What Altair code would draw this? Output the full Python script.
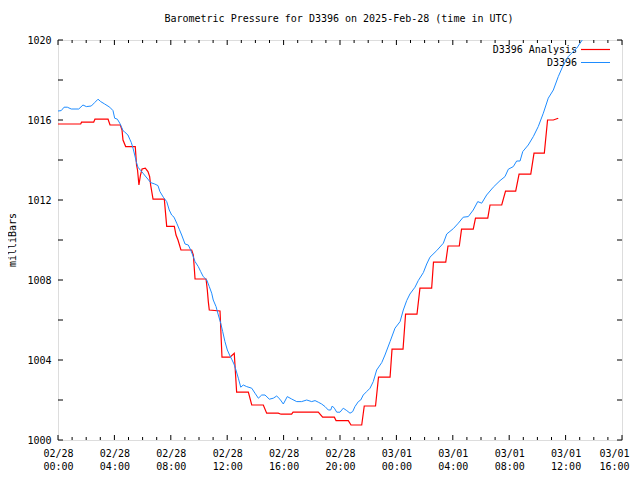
import json
import altair as alt
import pandas as pd

# ---------------- data (hours since 2025-02-28 00:00 UTC, millibars) ----------------
blue_hours = [0, 0.23, 0.43, 0.66, 0.94, 1.47, 1.77, 2.01, 2.36, 2.60, 2.84, 3.03, 3.31, 3.67, 3.90,
              4.02, 4.21, 4.38, 4.49, 4.61, 4.73, 4.96, 5.09, 5.20, 5.32, 5.44, 5.55, 5.67, 5.87,
              6.03, 6.19, 6.38, 6.57, 6.86, 7.09, 7.23, 7.47, 7.71, 7.89, 8.06, 8.23, 8.42, 8.60,
              8.77, 9.01, 9.24, 9.41, 9.55, 9.72, 9.95, 10.12, 10.30, 10.55, 10.73, 10.90, 11.01,
              11.21, 11.37, 11.54, 11.68, 11.84, 12.01, 12.20, 12.32, 12.48, 12.62, 12.79, 12.96,
              13.14, 13.38, 13.74, 13.97, 14.21, 14.45, 14.68, 14.99, 15.27, 15.51, 15.74, 15.98,
              16.26, 16.57, 16.93, 17.28, 17.64, 17.99, 18.23, 18.46, 18.70, 18.94, 19.17, 19.34,
              19.45, 19.60, 19.77, 20.00, 20.23, 20.48, 20.71, 20.90, 21.06, 21.30, 21.47, 21.65,
              21.89, 22.13, 22.36, 22.60, 22.96, 23.19, 23.55, 23.90, 24.26, 24.49, 24.73, 24.96,
              25.32, 25.55, 25.91, 26.15, 26.38, 26.86, 27.33, 27.57, 28.04, 28.39, 28.74, 29.10,
              29.45, 29.77, 30.05, 30.40, 30.87, 31.35, 31.70, 31.94, 32.29, 32.53, 32.77, 32.96,
              33.35, 33.71, 34.06, 34.42, 34.77, 35.13, 35.48, 35.84, 36.19, 36.43, 36.79, 37.18,
              37.45]
blue_mb = [1016.45, 1016.47, 1016.64, 1016.64, 1016.55, 1016.55, 1016.75, 1016.67, 1016.70, 1016.87,
           1017.04, 1016.92, 1016.80, 1016.64, 1016.47, 1016.09, 1016.04, 1015.84, 1015.67, 1015.47,
           1015.40, 1015.25, 1015.04, 1014.87, 1014.59, 1014.25, 1013.92, 1013.64, 1013.47, 1013.34,
           1013.20, 1013.04, 1012.87, 1012.80, 1012.72, 1012.42, 1012.14, 1011.92, 1011.50, 1011.25,
           1011.14, 1010.84, 1010.54, 1010.25, 1009.80, 1009.75, 1009.50, 1009.25, 1008.92, 1008.67,
           1008.42, 1008.17, 1008.00, 1007.67, 1007.34, 1007.00, 1006.67, 1006.25, 1005.84, 1005.42,
           1004.92, 1004.50, 1004.20, 1004.04, 1003.80, 1003.50, 1003.09, 1002.64, 1002.75, 1002.67,
           1002.59, 1002.34, 1002.09, 1002.25, 1002.25, 1002.04, 1002.09, 1002.20, 1002.04, 1001.80,
           1002.17, 1002.05, 1001.92, 1001.92, 1002.00, 1001.92, 1001.97, 1001.89, 1001.80, 1001.67,
           1001.50, 1001.50, 1001.70, 1001.59, 1001.39, 1001.39, 1001.59, 1001.47, 1001.34, 1001.42,
           1001.67, 1001.92, 1002.00, 1002.25, 1002.42, 1002.59, 1002.92, 1003.50, 1003.87, 1004.25,
           1004.92, 1005.59, 1005.92, 1006.50, 1006.97, 1007.30, 1007.64, 1007.97, 1008.37, 1008.80,
           1009.14, 1009.47, 1009.84, 1010.30, 1010.57, 1010.84, 1011.14, 1011.17, 1011.50, 1011.92,
           1011.84, 1012.25, 1012.64, 1012.97, 1013.17, 1013.54, 1013.67, 1013.95, 1013.95, 1014.42,
           1014.75, 1015.17, 1015.67, 1016.34, 1017.09, 1017.50, 1018.17, 1018.75, 1019.17, 1019.34,
           1019.59, 1020.00, 1020.25]

red_hours = [0, 1.61, 1.67, 2.53, 2.62, 3.55, 3.69, 4.42, 4.54, 4.61, 4.80, 5.48, 5.57, 5.64, 5.74,
             5.85, 5.96, 6.19, 6.38, 6.50, 6.57, 6.74, 7.54, 7.71, 8.25, 8.37, 8.51, 8.72, 9.48,
             9.60, 9.65, 9.72, 10.50, 10.59, 10.66, 10.73, 11.49, 11.63, 12.20, 12.50, 12.67,
             13.50, 13.74, 14.56, 14.80, 15.62, 15.82, 16.57, 16.67, 18.46, 18.77, 19.60, 19.72,
             20.59, 20.78, 21.54, 21.72, 22.52, 22.73, 23.55, 23.69, 24.47, 24.65, 25.46, 25.67,
             26.50, 26.63, 27.50, 27.66, 28.46, 28.62, 29.45, 29.61, 30.48, 30.64, 31.47, 31.74,
             32.46, 32.70, 33.53, 33.76, 34.49, 34.72, 35.13, 35.48]
red_mb = [1015.80, 1015.80, 1015.89, 1015.89, 1016.04, 1016.04, 1015.75, 1015.75, 1015.50, 1015.00,
          1014.67, 1014.67, 1013.75, 1013.50, 1012.75, 1013.25, 1013.55, 1013.59, 1013.42, 1013.17,
          1012.75, 1012.04, 1012.04, 1010.68, 1010.68, 1010.25, 1010.00, 1009.50, 1009.50, 1009.25,
          1008.75, 1008.05, 1008.05, 1007.50, 1006.92, 1006.50, 1006.45, 1004.14, 1004.14, 1004.34,
          1002.39, 1002.39, 1001.75, 1001.75, 1001.34, 1001.34, 1001.29, 1001.29, 1001.39, 1001.39,
          1001.14, 1001.14, 1000.97, 1000.97, 1000.75, 1000.75, 1001.70, 1001.70, 1003.14, 1003.14,
          1004.54, 1004.54, 1006.29, 1006.29, 1007.59, 1007.59, 1008.89, 1008.89, 1009.70, 1009.70,
          1010.54, 1010.54, 1011.09, 1011.09, 1011.75, 1011.75, 1012.44, 1012.44, 1013.29, 1013.29,
          1014.34, 1014.34, 1016.00, 1016.00, 1016.09]

series_names = ["D3396 Analysis", "D3396"]
series_colors = ["#ff0000", "#1e8cff"]

major_hours = [0, 4, 8, 12, 16, 20, 24, 28, 32, 36, 40]
minor_hours = [h for h in range(0, 41) if h % 4 != 0]
tick_dates = ["02/28", "02/28", "02/28", "02/28", "02/28", "02/28",
              "03/01", "03/01", "03/01", "03/01", "03/01"]
tick_times = ["00:00", "04:00", "08:00", "12:00", "16:00", "20:00",
              "00:00", "04:00", "08:00", "12:00", "16:00"]
y_ticks = [1000, 1002, 1004, 1006, 1008, 1010, 1012, 1014, 1016, 1018, 1020]

title_text = "Barometric Pressure for D3396 on 2025-Feb-28 (time in UTC)"
y_title = "milliBars"

# ---------------- chart ----------------
FONT = "DejaVu Sans Mono"
W, H = 564, 400

blue_df = pd.DataFrame({"hours": blue_hours, "mb": blue_mb})
red_df = pd.DataFrame({"hours": red_hours, "mb": red_mb})
major_df = pd.DataFrame({"hours": major_hours})
minor_df = pd.DataFrame({"hours": minor_hours})
ytick_df = pd.DataFrame({"mb": y_ticks})

xscale = alt.Scale(domain=[0, 40], nice=False, zero=False)
yscale = alt.Scale(domain=[1000, 1020], nice=False, zero=False)

label_expr = ("[" + json.dumps(tick_dates) + "[round(datum.value/4)], "
              + json.dumps(tick_times) + "[round(datum.value/4)]]")

x_axis = alt.Axis(values=major_hours, labelExpr=label_expr, ticks=False, tickSize=0,
                  domain=False, grid=False, title=None, labelFont=FONT, labelFontSize=10,
                  labelColor="black", labelPadding=8, labelLineHeight=13.4,
                  labelBaseline="top", labelFlush=False, labelOverlap=False,
                  labelOffset={"condition": {"test": "datum.value >= 40", "value": -8},
                               "value": 0})
y_axis = alt.Axis(values=y_ticks, format="d", ticks=False, tickSize=0, domain=False,
                  grid=False, title=None, labelFont=FONT, labelFontSize=10,
                  labelColor="black", labelPadding=7, labelFlush=False, labelOverlap=False)

base_x = alt.X("hours:Q", scale=xscale, axis=x_axis)
base_y = alt.Y("mb:Q", scale=yscale, axis=y_axis)

# titles as text marks
title_mark = alt.Chart(pd.DataFrame({"t": [title_text]})).mark_text(
    font=FONT, fontSize=10, align="center", baseline="middle", color="black"
).encode(text="t:N", x=alt.value(W / 2 - 1), y=alt.value(-21))
ytitle_mark = alt.Chart(pd.DataFrame({"t": [y_title]})).mark_text(
    font=FONT, fontSize=10, align="center", baseline="middle", color="black", angle=270
).encode(text="t:N", x=alt.value(-45), y=alt.value(H / 2))

# legend (drawn before data lines, as in reference)
leg_text1 = alt.Chart(pd.DataFrame({"name": [series_names[0]]})).mark_text(
    font=FONT, fontSize=10, align="right", baseline="middle", color="black"
).encode(text="name:N", x=alt.value(519), y=alt.value(10))
leg_text2 = alt.Chart(pd.DataFrame({"name": [series_names[1]]})).mark_text(
    font=FONT, fontSize=10, align="right", baseline="middle", color="black"
).encode(text="name:N", x=alt.value(519), y=alt.value(23))
leg_line1 = alt.Chart(pd.DataFrame({"name": [series_names[0]]})).mark_rule(
    color=series_colors[0], strokeWidth=1.2
).encode(x=alt.value(523), x2=alt.value(552), y=alt.value(9.5))
leg_line2 = alt.Chart(pd.DataFrame({"name": [series_names[1]]})).mark_rule(
    color=series_colors[1], strokeWidth=1
).encode(x=alt.value(523), x2=alt.value(552), y=alt.value(22.5))

red_line = alt.Chart(red_df).mark_line(color=series_colors[0], strokeWidth=1.2, clip=True).encode(
    x=base_x, y=base_y, order="hours:Q")
blue_line = alt.Chart(blue_df).mark_line(color=series_colors[1], strokeWidth=1, clip=True).encode(
    x=base_x, y=base_y, order="hours:Q")

tick_color = "black"
bot_major = alt.Chart(major_df).mark_rule(color=tick_color, strokeWidth=1).encode(
    x=alt.X("hours:Q", scale=xscale), y=alt.value(H), y2=alt.value(H - 5))
top_major = alt.Chart(major_df).mark_rule(color=tick_color, strokeWidth=1).encode(
    x=alt.X("hours:Q", scale=xscale), y=alt.value(0), y2=alt.value(5))
bot_minor = alt.Chart(minor_df).mark_rule(color=tick_color, strokeWidth=1).encode(
    x=alt.X("hours:Q", scale=xscale), y=alt.value(H), y2=alt.value(H - 3))
top_minor = alt.Chart(minor_df).mark_rule(color=tick_color, strokeWidth=1).encode(
    x=alt.X("hours:Q", scale=xscale), y=alt.value(0), y2=alt.value(3))
left_ticks = alt.Chart(ytick_df).mark_rule(color=tick_color, strokeWidth=1).encode(
    y=alt.Y("mb:Q", scale=yscale), x=alt.value(0), x2=alt.value(5))
right_ticks = alt.Chart(ytick_df).mark_rule(color=tick_color, strokeWidth=1).encode(
    y=alt.Y("mb:Q", scale=yscale), x=alt.value(W), x2=alt.value(W - 5))

chart = alt.layer(
    red_line,
    title_mark, ytitle_mark,
    leg_text1, leg_text2, leg_line1, leg_line2,
    blue_line,
    bot_major, top_major, bot_minor, top_minor, left_ticks, right_ticks,
).properties(
    width=W, height=H,
    autosize=alt.AutoSizeParams(type="none"),
    padding={"left": 50, "top": 32, "right": 8, "bottom": 32},
).configure_view(
    stroke="black", strokeWidth=1, fill="white"
).configure(background="white")

chart.save("out.html", embed_options={"renderer": "svg", "actions": False})
